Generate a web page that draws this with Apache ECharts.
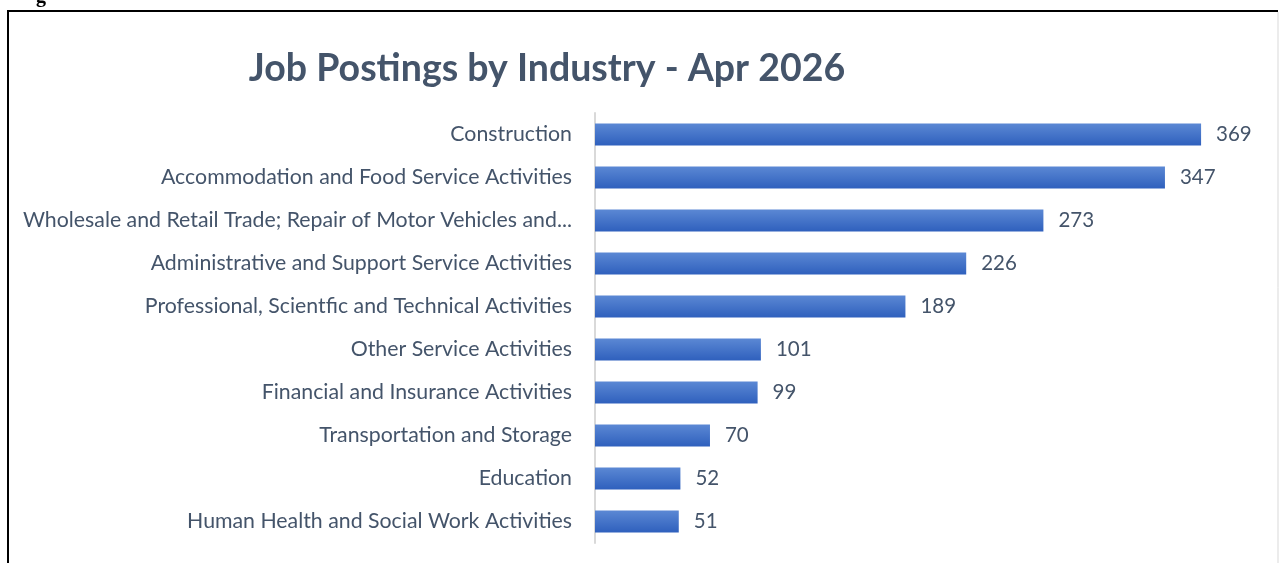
<!DOCTYPE html>
<html>
<head>
<meta charset="utf-8">
<script src="https://cdn.jsdelivr.net/npm/echarts@6/dist/echarts.min.js"></script>
<style>
  html, body { margin: 0; padding: 0; background: #fff; }
  #main { width: 1279px; height: 563px; }
</style>
</head>
<body>
<div id="main"></div>
<script>
// industries, top to bottom as shown
var industries = [
  'Construction',
  'Accommodation and Food Service Activities',
  'Wholesale and Retail Trade; Repair of Motor Vehicles and...',
  'Administrative and Support Service Activities',
  'Professional, Scientfic and Technical Activities',
  'Other Service Activities',
  'Financial and Insurance Activities',
  'Transportation and Storage',
  'Education',
  'Human Health and Social Work Activities'
];
var postings = [369, 347, 273, 226, 189, 101, 99, 70, 52, 51];

var chart = echarts.init(document.getElementById('main'));
var textCol = '#44546A';

var option = {
  backgroundColor: '#fff',
  animation: false,
  title: {
    text: 'Job Postings by Industry - Apr 2026',
    left: 542,
    textAlign: 'center',
    top: 45,
    textStyle: { fontFamily: 'Lato', fontWeight: 'bold', fontSize: 37.5, color: textCol }
  },
  graphic: [
    // frame of the figure box
    { type: 'line', shape: { x1: 8, y1: 10, x2: 8, y2: 563 }, style: { stroke: '#000', lineWidth: 2 } },
    { type: 'line', shape: { x1: 7, y1: 11, x2: 1278, y2: 11 }, style: { stroke: '#000', lineWidth: 2 } },
    { type: 'line', shape: { x1: 1278, y1: 12, x2: 1278, y2: 563 }, style: { stroke: '#d9d9d9', lineWidth: 1 } },
    // clipped caption above the frame
    { type: 'text', x: 36, y: -13, style: { text: 'g', font: 'bold 20px "Liberation Serif"', fill: '#000' } }
  ],
  grid: { left: 595, right: 27, top: 113, bottom: 20 },
  xAxis: {
    type: 'value', min: 0, max: 400, show: false
  },
  yAxis: {
    type: 'category',
    inverse: true,
    data: industries,
    axisLine: { show: true, lineStyle: { color: '#d9d9d9', width: 2 } },
    axisTick: { show: false },
    axisLabel: { margin: 23, fontFamily: 'Lato', fontSize: 21.3, color: textCol, padding: [2, 0, 0, 0] }
  },
  series: [{
    type: 'bar',
    data: postings,
    barWidth: 22,
    itemStyle: {
      color: new echarts.graphic.LinearGradient(0, 0, 0, 1, [
        { offset: 0, color: '#5b88d4' },
        { offset: 1, color: '#2f60bd' }
      ])
    },
    label: {
      show: true,
      position: 'right',
      distance: 15,
      fontFamily: 'Lato',
      fontSize: 20.5,
      color: textCol,
      padding: [3, 0, 0, 0]
    }
  }]
};
chart.setOption(option);
</script>
</body>
</html>
